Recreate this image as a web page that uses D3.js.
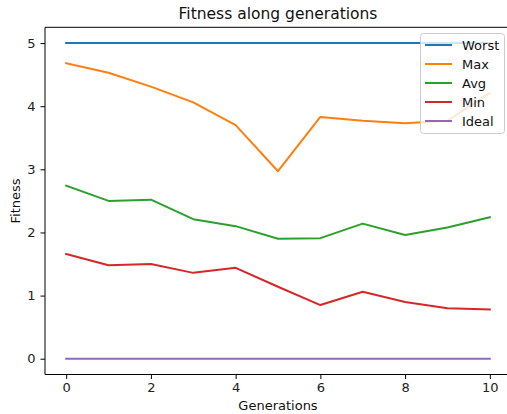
<!DOCTYPE html>
<html>
<head>
<meta charset="utf-8">
<script src="https://cdn.jsdelivr.net/npm/d3@7"></script>
<style>
  html, body { margin: 0; padding: 0; background: #fff; }
  svg { display: block; font-family: "DejaVu Sans", sans-serif; }
</style>
</head>
<body>
<svg id="chart" width="507" height="414"></svg>
<script>
const generations = [0, 1, 2, 3, 4, 5, 6, 7, 8, 9, 10];
const worst = [5, 5, 5, 5, 5, 5, 5, 5, 5, 5, 5];
const maxV  = [4.68, 4.53, 4.31, 4.06, 3.70, 2.97, 3.83, 3.77, 3.73, 3.77, 4.21];
const avgV  = [2.74, 2.50, 2.52, 2.21, 2.10, 1.90, 1.91, 2.14, 1.96, 2.08, 2.24];
const minV  = [1.66, 1.48, 1.50, 1.36, 1.44, 1.14, 0.85, 1.06, 0.90, 0.80, 0.78];
const ideal = [0, 0, 0, 0, 0, 0, 0, 0, 0, 0, 0];
const seriesNames = ["Worst", "Max", "Avg", "Min", "Ideal"];
const seriesColors = ["#1f77b4", "#ff7f0e", "#2ca02c", "#d62728", "#9467bd"];
const xTicks = [0, 2, 4, 6, 8, 10];
const yTicks = [0, 1, 2, 3, 4, 5];

const series = [worst, maxV, avgV, minV, ideal].map((vals, i) => ({
  name: seriesNames[i], color: seriesColors[i],
  points: vals.map((v, j) => [generations[j], v])
}));

const svg = d3.select("#chart");
const L = 45, R = 511, T = 27.3, B = 374.5;

const x = d3.scaleLinear().domain([-0.5, 10.5]).range([L, R]);
const y = d3.scaleLinear().domain([-0.25, 5.25]).range([B, T]);

// lines
const line = d3.line().x(d => x(d[0])).y(d => y(d[1]));
svg.append("g").selectAll("path").data(series).join("path")
  .attr("d", d => line(d.points))
  .attr("fill", "none")
  .attr("stroke", d => d.color)
  .attr("stroke-width", 2)
  .attr("stroke-linejoin", "round")
  .attr("stroke-linecap", "square");

// axes
const xAxis = d3.axisBottom(x).tickValues(xTicks).tickFormat(d3.format("d")).tickSize(4.5).tickPadding(4);
const yAxis = d3.axisLeft(y).tickValues(yTicks).tickFormat(d3.format("d")).tickSize(4.5).tickPadding(5);

const gx = svg.append("g").attr("transform", `translate(0,${B})`).call(xAxis);
const gy = svg.append("g").attr("transform", `translate(${L},0)`).call(yAxis);
[gx, gy].forEach(g => {
  g.select(".domain").remove();
  g.selectAll(".tick line").attr("stroke", "#000").attr("stroke-width", 1);
  g.selectAll(".tick text").attr("fill", "#222").style("font-size", "13px").style("font-family", "DejaVu Sans, sans-serif");
});

// spines
const spine = svg.append("g").attr("stroke", "#000").attr("stroke-width", 1).attr("fill", "none");
spine.append("line").attr("x1", L).attr("x2", L).attr("y1", T).attr("y2", B);
spine.append("line").attr("x1", L).attr("x2", R).attr("y1", B).attr("y2", B);
spine.append("line").attr("x1", L).attr("x2", R).attr("y1", T).attr("y2", T);
spine.append("line").attr("x1", R).attr("x2", R).attr("y1", T).attr("y2", B);

// title & labels
svg.append("text").attr("x", (L + R) / 2).attr("y", 19).attr("text-anchor", "middle")
  .style("font-size", "15.5px").attr("fill", "#111").text("Fitness along generations");
svg.append("text").attr("x", (L + R) / 2).attr("y", 410).attr("text-anchor", "middle")
  .style("font-size", "13px").attr("fill", "#111").text("Generations");
svg.append("text").attr("transform", `translate(20,${(T + B) / 2}) rotate(-90)`).attr("text-anchor", "middle")
  .style("font-size", "13px").attr("fill", "#111").text("Fitness");

// legend
const lg = svg.append("g");
lg.append("rect").attr("x", 420.5).attr("y", 33.5).attr("width", 84).attr("height", 100)
  .attr("rx", 3).attr("fill", "#fff").attr("fill-opacity", 0.8)
  .attr("stroke", "#ccc").attr("stroke-width", 1);
const items = lg.selectAll("g.item").data(series).join("g").attr("class", "item")
  .attr("transform", (d, i) => `translate(0,${45 + i * 19})`);
items.append("line").attr("x1", 425).attr("x2", 452).attr("y1", 0).attr("y2", 0)
  .attr("stroke", d => d.color).attr("stroke-width", 2);
items.append("text").attr("x", 462).attr("y", 0).attr("dy", "0.36em")
  .style("font-size", "13px").attr("fill", "#111").text(d => d.name);
</script>
</body>
</html>
